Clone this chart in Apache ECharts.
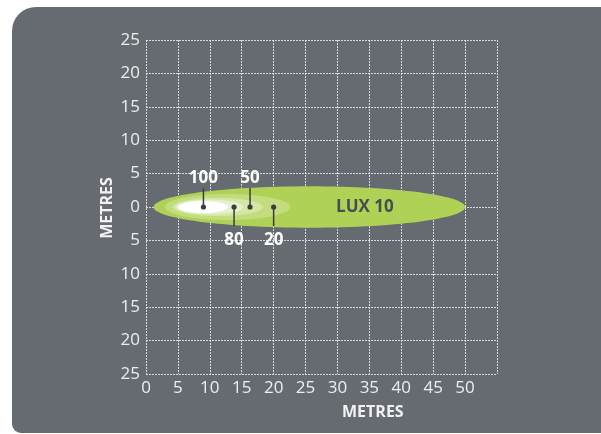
<!DOCTYPE html>
<html>
<head>
<meta charset="utf-8">
<script src="https://cdn.jsdelivr.net/npm/echarts@6/dist/echarts.min.js"></script>
<style>
html,body{margin:0;padding:0;background:#ffffff;}
#chart{width:601px;height:434px;}
</style>
</head>
<body>
<div id="chart"></div>
<script>
// Illuminance zones (lux), drawn largest first
var zoneLux = [10, 20, 50, 80, 100];
var zoneStart = [1.2, 3.0, 4.2, 4.7, 5.0];     // metres (forward)
var zoneEnd = [50.0, 22.6, 18.3, 15.2, 12.9];  // metres (forward)
var zoneHalfWidth = [3.1, 1.95, 1.35, 1.1, 0.9]; // metres (lateral)
var zoneColors = ['#afd155', '#c2dc7e', '#d4e7a5', '#e5f0cd', '#ffffff'];

// Marker points
var markerLux = [100, 80, 50, 20];
var markerX = [9.0, 13.8, 16.3, 20.0];
var markerUp = [true, false, true, false];

var xTicks = [0, 5, 10, 15, 20, 25, 30, 35, 40, 45, 50];
var yTicks = [25, 20, 15, 10, 5, 0, 5, 10, 15, 20, 25];
var axisTitle = 'METRES';

var chart = echarts.init(document.getElementById('chart'));
var FONT = '"Open Sans", "Noto Sans", sans-serif';
var gridLine = {color: 'rgba(235,235,235,0.85)', width: 1, type: [2, 1]};

var zoneData = zoneLux.map(function (l, i) { return [zoneStart[i], zoneEnd[i], zoneHalfWidth[i], i]; });
var markerData = markerLux.map(function (l, i) { return [markerX[i], 0, l, markerUp[i] ? 1 : 0]; });

chart.setOption({
  animation: false,
  backgroundColor: '#ffffff',
  graphic: [
    {type: 'rect', z: -10, shape: {x: 12, y: 7, width: 600, height: 426, r: [24, 12, 0, 9]}, style: {fill: '#656b71'}},
    {type: 'text', z: 10, left: 342, top: 404, style: {text: axisTitle, fill: '#f2f2f2', font: 'bold 16px ' + FONT}},
    {type: 'text', z: 10, x: 107, y: 208, rotation: Math.PI / 2,
      style: {text: axisTitle, fill: '#f2f2f2', font: 'bold 16px ' + FONT, align: 'center', verticalAlign: 'middle'}}
  ],
  grid: {left: 146, right: 104, top: 40, bottom: 60},
  xAxis: {
    type: 'value', min: 0, max: 55, interval: 5,
    axisLine: {show: false}, axisTick: {show: false},
    splitLine: {show: true, lineStyle: gridLine},
    axisLabel: {color: '#eeeeee', fontSize: 17, fontFamily: FONT, margin: 6,
      formatter: function (v) { return xTicks.indexOf(v) >= 0 ? String(v) : ''; }}
  },
  yAxis: {
    type: 'value', min: -25, max: 25, interval: 5,
    axisLine: {show: false}, axisTick: {show: false},
    splitLine: {show: true, lineStyle: gridLine},
    axisLabel: {color: '#eeeeee', fontSize: 17, fontFamily: FONT, margin: 6,
      formatter: function (v) { return String(yTicks[(25 - v) / 5]); }}
  },
  series: [
    {
      type: 'custom', z: 2, data: zoneData, silent: true,
      renderItem: function (params, api) {
        var x0 = api.value(0), x1 = api.value(1), hw = api.value(2), idx = api.value(3);
        var pL = api.coord([x0, 0]), pR = api.coord([x1, 0]), pT = api.coord([x0, hw]);
        var cx = (pL[0] + pR[0]) / 2, cy = pL[1];
        var rx = (pR[0] - pL[0]) / 2, ry = Math.abs(pL[1] - pT[1]);
        var pts = [];
        for (var k = 0; k < 120; k++) {
          var t = k / 120 * Math.PI * 2;
          pts.push([cx + rx * Math.cos(t), cy + ry * Math.sin(t)]);
        }
        var children = [{type: 'polygon', shape: {points: pts, smooth: 0}, style: {fill: zoneColors[idx]}}];
        if (idx === 0) {
          var tp = api.coord([34.3, 0]);
          children.push({type: 'text', style: {text: 'LUX ' + zoneLux[idx], x: tp[0], y: tp[1],
            align: 'center', verticalAlign: 'middle', fill: '#484d52', font: 'bold 17px ' + FONT}});
        }
        return {type: 'group', children: children};
      }
    },
    {
      type: 'custom', z: 3, data: markerData, silent: true,
      renderItem: function (params, api) {
        var p = api.coord([api.value(0), api.value(1)]);
        var up = api.value(3) === 1;
        var lineEnd = up ? p[1] - 19 : p[1] + 19;
        var textY = up ? p[1] - 29 : p[1] + 33;
        return {type: 'group', children: [
          {type: 'line', shape: {x1: p[0], y1: p[1], x2: p[0], y2: lineEnd}, style: {stroke: '#3a3d40', lineWidth: 1.5}},
          {type: 'circle', shape: {cx: p[0], cy: p[1], r: 2.6}, style: {fill: '#3a3d40'}},
          {type: 'text', style: {text: String(api.value(2)), x: p[0], y: textY, align: 'center', verticalAlign: 'middle',
            fill: '#ffffff', font: 'bold 17px ' + FONT}}
        ]};
      }
    }
  ]
});
</script>
</body>
</html>
